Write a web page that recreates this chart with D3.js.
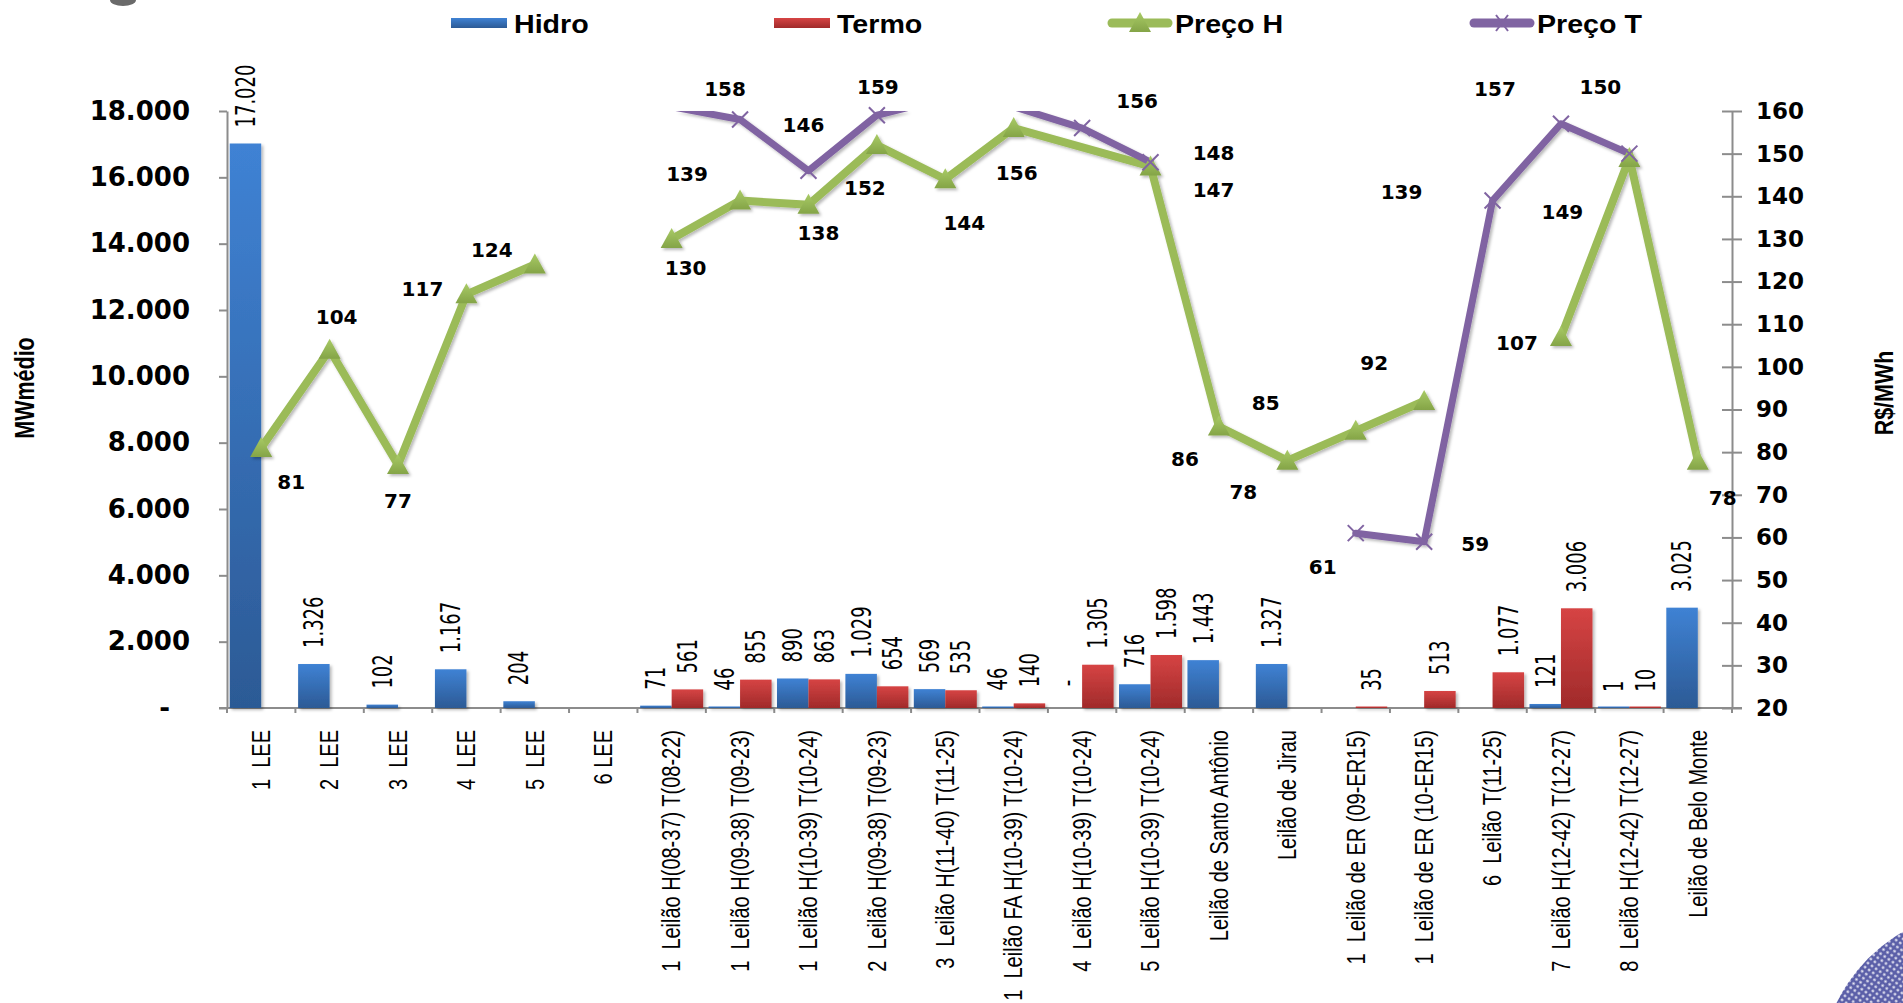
<!DOCTYPE html>
<html>
<head>
<meta charset="utf-8">
<script src="https://cdn.jsdelivr.net/npm/d3@7"></script>
<style>
html,body{margin:0;padding:0;background:#ffffff;}
svg{display:block;}
text{white-space:pre;}
</style>
</head>
<body>
<svg id="chart" width="1903" height="1003" xml:space="preserve"></svg>
<script>
// ---------------- DATA ----------------
const categories = [
  "1  LEE", "2  LEE", "3  LEE", "4  LEE", "5  LEE", "6 LEE",
  "1  Leilão H(08-37) T(08-22)",
  "1  Leilão H(09-38) T(09-23)",
  "1  Leilão H(10-39) T(10-24)",
  "2  Leilão H(09-38) T(09-23)",
  "3  Leilão H(11-40) T(11-25)",
  "1  Leilão FA H(10-39) T(10-24)",
  "4  Leilão H(10-39) T(10-24)",
  "5  Leilão H(10-39) T(10-24)",
  "Leilão de Santo Antônio",
  "Leilão de Jirau",
  "1  Leilão de ER (09-ER15)",
  "1  Leilão de ER (10-ER15)",
  "6  Leilão T(11-25)",
  "7  Leilão H(12-42) T(12-27)",
  "8  Leilão H(12-42) T(12-27)",
  "Leilão de Belo Monte"
];
// MWmédio (left axis); null = no bar
const hidro = [17020, 1326, 102, 1167, 204, null, 71, 46, 890, 1029, 569, 46, 0, 716, 1443, 1327, null, null, null, 121, 1, 3025];
const termo = [null, null, null, null, null, null, 561, 855, 863, 654, 535, 140, 1305, 1598, null, null, 35, 513, 1077, 3006, 10, null];
// R$/MWh (right axis); null = gap in line, "#N/A" = skipped point, line connected
const precoH = [81, 104, 77, 117, 124, null, 130, 139, 138, 152, 144, 156, "#N/A", 147, 86, 78, 85, 92, null, 107, 149, 78];
const precoT = [null, null, null, null, null, null, 161, 158, 146, 159, 163, 161, 156, 148, null, null, 61, 59, 139, 157, 150, null];

const leftTicks  = [0, 2000, 4000, 6000, 8000, 10000, 12000, 14000, 16000, 18000];
const rightTicks = [20, 30, 40, 50, 60, 70, 80, 90, 100, 110, 120, 130, 140, 150, 160];

const seriesNames = ["Hidro", "Termo", "Preço H", "Preço T"];
const leftTitle = "MWmédio";
const rightTitle = "R$/MWh";

// ---------------- LAYOUT (label placements, px offsets from point) ----------------
const hLabelOffset = [[30,34],[7,-33],[0,36],[-44,-6],[-43,-15],null,[14,29],[-53,-27],[10,28],[-12,43],[19,44],[3,45],null,[63,23],[-34,32],[-44,31],[-90,-28],[-50,-38],null,[-44,6],[-67,54],[25,37]];
const tLabelOffset = [null,null,null,null,null,null,null,[-15,-31],[-5,-46],[1,-28],null,null,[55,-27],[63,-9],null,null,[-33,34],[51,2],[-91,-9],[-66,-35],[-29,-67],null];

const plot = {left: 227, right: 1732, top: 111, bottom: 708};
const colors = {hidro: "#3A78C6", termo: "#C0433F", h: "#9BBB59", t: "#8064A2", axis: "#8C8C8C"};

const svg = d3.select("#chart");
const defs = svg.append("defs");

function vgrad(id, c0, c1) {
  const g = defs.append("linearGradient").attr("id", id).attr("x1", 0).attr("y1", 0).attr("x2", 0).attr("y2", 1);
  g.append("stop").attr("offset", "0%").attr("stop-color", c0);
  g.append("stop").attr("offset", "100%").attr("stop-color", c1);
}
vgrad("gHidro", "#3F82D4", "#2C5A95");
vgrad("gTermo", "#D64444", "#A02A2A");
vgrad("gTri", "#A9CB66", "#84A447");

const shadow = defs.append("filter").attr("id", "shadow").attr("x", "-20%").attr("y", "-20%").attr("width", "140%").attr("height", "140%");
shadow.append("feDropShadow").attr("dx", 2).attr("dy", 2).attr("stdDeviation", 1.6).attr("flood-color", "#000").attr("flood-opacity", 0.28);

defs.append("clipPath").attr("id", "plotClip").append("rect")
  .attr("x", plot.left - 20).attr("y", plot.top).attr("width", plot.right - plot.left + 40).attr("height", plot.bottom - plot.top + 20);

// ---------------- SCALES ----------------
const x = d3.scaleBand().domain(categories).range([plot.left, plot.right]).paddingInner(0).paddingOuter(0);
const xs = d3.scaleBand().domain(["Hidro", "Termo"]).range([0, x.bandwidth()]).paddingInner(0).paddingOuter(0.086);
const yL = d3.scaleLinear().domain([0, 18000]).range([plot.bottom, plot.top]);
const yR = d3.scaleLinear().domain([20, 160]).range([plot.bottom, plot.top]);

const locale = d3.formatLocale({decimal: ",", thousands: ".", grouping: [3], currency: ["R$", ""]});
const fmt = locale.format(",d");
const cx = i => x(categories[i]) + x.bandwidth() / 2;

// ---------------- DECORATIONS ----------------
const deco = svg.append("g");
deco.append("ellipse").attr("cx", 123).attr("cy", 0).attr("rx", 13).attr("ry", 6).attr("fill", "#6a6a6a");
const pat = defs.append("pattern").attr("id", "dots").attr("width", 5).attr("height", 5).attr("patternUnits", "userSpaceOnUse").attr("patternTransform", "rotate(35)");
pat.append("rect").attr("width", 5).attr("height", 5).attr("fill", "#5b5fa8");
pat.append("circle").attr("cx", 2.5).attr("cy", 2.5).attr("r", 1.3).attr("fill", "#e8e8f4");
deco.append("circle").attr("cx", 1985).attr("cy", 1075).attr("r", 165).attr("fill", "url(#dots)");

// ---------------- AXES ----------------
const axL = svg.append("g").attr("transform", `translate(${plot.left},0)`)
  .call(d3.axisLeft(yL).tickValues(leftTicks).tickSize(8).tickSizeOuter(0).tickPadding(29)
    .tickFormat(d => d === 0 ? "-" : fmt(d)));
axL.selectAll("text").attr("font-family", "'DejaVu Sans', Verdana, sans-serif").attr("font-weight", "bold")
  .attr("font-size", 26).attr("fill", "#000")
  .attr("dx", d => d === 0 ? -20 : 0);

const axR = svg.append("g").attr("transform", `translate(${plot.right},0)`)
  .call(d3.axisRight(yR).tickValues(rightTicks).tickSize(10).tickSizeOuter(0).tickPadding(14));
axR.selectAll(".tick line").attr("x1", -10).attr("x2", 10);
axR.selectAll("text").attr("font-family", "'DejaVu Sans', Verdana, sans-serif").attr("font-weight", "bold")
  .attr("font-size", 23).attr("fill", "#000");

const axB = svg.append("g").attr("transform", `translate(0,${plot.bottom})`)
  .call(d3.axisBottom(x).tickSize(0).tickSizeOuter(0).tickFormat(""));
axB.select(".domain").attr("d", `M${plot.left - 8},0H${plot.right + 10}`);
// category boundary tick marks
axB.selectAll(".bound").data(d3.range(categories.length + 1)).enter().append("line")
  .attr("class", "bound")
  .attr("x1", i => plot.left + i * x.step()).attr("x2", i => plot.left + i * x.step())
  .attr("y1", 0).attr("y2", 5);

[axL, axR, axB].forEach(a => {
  a.selectAll(".domain").attr("stroke", colors.axis).attr("stroke-width", 2);
  a.selectAll("line").attr("stroke", colors.axis).attr("stroke-width", 2);
});

// category labels (rotated)
svg.append("g").selectAll("text").data(categories).enter().append("text")
  .attr("transform", (d, i) => `translate(${cx(i)},730) rotate(-90) scale(1,1.25)`)
  .attr("text-anchor", "end").attr("dy", "0.35em")
  .attr("font-family", "'Liberation Sans', Arial, sans-serif").attr("font-size", 20).attr("fill", "#000")
  .text(d => d);

// axis titles
svg.append("text").attr("transform", "translate(25,388) rotate(-90) scale(1,1.25)")
  .attr("text-anchor", "middle").attr("dy", "0.35em")
  .attr("font-family", "'Liberation Sans', Arial, sans-serif").attr("font-weight", "bold").attr("font-size", 21.5)
  .text(leftTitle);
svg.append("text").attr("transform", "translate(1884,393) rotate(-90) scale(1,1.2)")
  .attr("text-anchor", "middle").attr("dy", "0.35em")
  .attr("font-family", "'Liberation Sans', Arial, sans-serif").attr("font-weight", "bold").attr("font-size", 21.5)
  .text(rightTitle);

// ---------------- BARS ----------------
const barData = [];
categories.forEach((c, i) => {
  if (hidro[i] !== null) barData.push({i, s: "Hidro", v: hidro[i]});
  if (termo[i] !== null) barData.push({i, s: "Termo", v: termo[i]});
});
const gBars = svg.append("g").attr("filter", "url(#shadow)");
gBars.selectAll("rect").data(barData.filter(d => d.v > 0)).enter().append("rect")
  .attr("x", d => x(categories[d.i]) + xs(d.s))
  .attr("width", xs.bandwidth())
  .attr("y", d => Math.min(yL(d.v), plot.bottom - 1.5))
  .attr("height", d => Math.max(plot.bottom - yL(d.v), 1.5))
  .attr("fill", d => d.s === "Hidro" ? "url(#gHidro)" : "url(#gTermo)");

svg.append("g").selectAll("text").data(barData).enter().append("text")
  .attr("transform", d => `translate(${x(categories[d.i]) + xs(d.s) + xs.bandwidth() / 2},${yL(d.v) - 16}) rotate(-90) scale(1,1.45)`)
  .attr("text-anchor", "start").attr("dy", "0.36em")
  .attr("font-family", "'DejaVu Sans', Verdana, sans-serif").attr("font-size", 18).attr("fill", "#000")
  .text(d => d.v === 0 ? " -" : fmt(d.v));

// ---------------- LINES ----------------
function segments(vals) {
  const segs = []; let cur = [];
  vals.forEach((v, i) => {
    if (v === null) { if (cur.length) segs.push(cur); cur = []; }
    else if (typeof v === "number") cur.push([i, v]);
  });
  if (cur.length) segs.push(cur);
  return segs;
}
const line = d3.line().x(d => cx(d[0])).y(d => yR(d[1]));
const gLines = svg.append("g").attr("filter", "url(#shadow)");
const gClip = gLines.append("g").attr("clip-path", "url(#plotClip)");
gClip.selectAll(".lh").data(segments(precoH)).enter().append("path").attr("class", "lh")
  .attr("d", line).attr("fill", "none").attr("stroke", colors.h).attr("stroke-width", 8)
  .attr("stroke-linejoin", "round").attr("stroke-linecap", "round");
gClip.selectAll(".lt").data(segments(precoT)).enter().append("path").attr("class", "lt")
  .attr("d", line).attr("fill", "none").attr("stroke", colors.t).attr("stroke-width", 7)
  .attr("stroke-linejoin", "round").attr("stroke-linecap", "round");

const triPath = "M0,-11L11,9L-11,9Z";
const inRange = v => typeof v === "number" && v <= 160 && v >= 20;
gLines.selectAll(".mh").data(precoH.map((v, i) => ({v, i})).filter(d => inRange(d.v))).enter().append("path")
  .attr("class", "mh").attr("d", triPath).attr("transform", d => `translate(${cx(d.i)},${yR(d.v)})`)
  .attr("fill", "url(#gTri)");
const xMark = svg.append("g");
xMark.selectAll(".mt").data(precoT.map((v, i) => ({v, i})).filter(d => inRange(d.v))).enter().append("path")
  .attr("class", "mt").attr("d", "M-8,-8L8,8M-8,8L8,-8").attr("transform", d => `translate(${cx(d.i)},${yR(d.v)})`)
  .attr("stroke", colors.t).attr("stroke-width", 2).attr("fill", "none");

// line labels
const lbl = svg.append("g").attr("font-family", "'DejaVu Sans', Verdana, sans-serif").attr("font-weight", "bold").attr("font-size", 20).attr("fill", "#000");
precoH.forEach((v, i) => {
  if (inRange(v) && hLabelOffset[i]) {
    lbl.append("text").attr("x", cx(i) + hLabelOffset[i][0]).attr("y", yR(v) + hLabelOffset[i][1])
      .attr("text-anchor", "middle").attr("dy", "0.36em").text(v);
  }
});
precoT.forEach((v, i) => {
  if (inRange(v) && tLabelOffset[i]) {
    lbl.append("text").attr("x", cx(i) + tLabelOffset[i][0]).attr("y", yR(v) + tLabelOffset[i][1])
      .attr("text-anchor", "middle").attr("dy", "0.36em").text(v);
  }
});

// ---------------- LEGEND ----------------
const leg = svg.append("g");
const legFont = g => g.attr("font-family", "'Liberation Sans', Arial, sans-serif").attr("font-weight", "bold").attr("font-size", 26).attr("fill", "#000");
const legendItems = [
  {name: seriesNames[0], kind: "bar", fill: "url(#gHidro)", x0: 451, tx: 514},
  {name: seriesNames[1], kind: "bar", fill: "url(#gTermo)", x0: 774, tx: 837},
  {name: seriesNames[2], kind: "lineH", x0: 1108, tx: 1175},
  {name: seriesNames[3], kind: "lineT", x0: 1470, tx: 1537}
];
legendItems.forEach(it => {
  if (it.kind === "bar") {
    leg.append("rect").attr("x", it.x0).attr("y", 18).attr("width", 56).attr("height", 10).attr("fill", it.fill);
  } else {
    const col = it.kind === "lineH" ? colors.h : colors.t;
    leg.append("line").attr("x1", it.x0 + 4).attr("x2", it.x0 + 60).attr("y1", 23).attr("y2", 23)
      .attr("stroke", col).attr("stroke-width", 9).attr("stroke-linecap", "round");
    if (it.kind === "lineH") {
      leg.append("path").attr("d", triPath).attr("transform", `translate(${it.x0 + 32},23)`).attr("fill", "url(#gTri)");
    } else {
      leg.append("path").attr("d", "M-6,-8L6,8M-6,8L6,-8").attr("transform", `translate(${it.x0 + 32},23)`)
        .attr("stroke", col).attr("stroke-width", 2);
    }
  }
  leg.append("text").attr("transform", `translate(${it.tx},33) scale(1.1,1)`).call(legFont).text(it.name);
});
</script>
</body>
</html>
